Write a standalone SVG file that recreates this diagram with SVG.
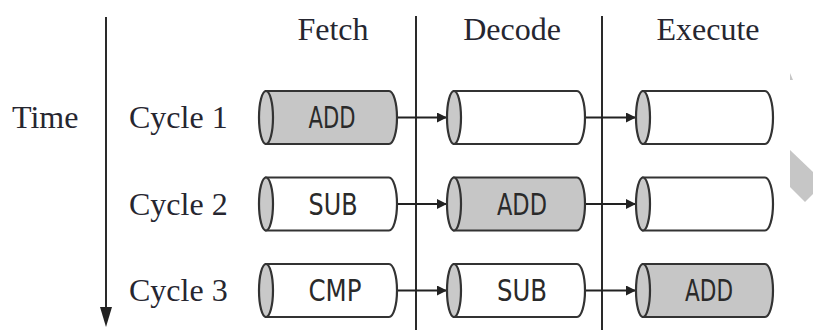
<svg xmlns="http://www.w3.org/2000/svg" width="813" height="330" viewBox="0 0 813 330">
<defs>
<style>
.lbl{font-family:"Liberation Serif","Times New Roman",serif;font-size:32px;fill:#262630}
.ins{font-family:"DejaVu Sans Condensed","Liberation Sans",sans-serif;font-size:31px;fill:#2a2a2a;text-anchor:middle}
.body{stroke:#333;stroke-width:2.2;fill:#fff}
.body.on{fill:#c6c6c6}
.cap{stroke:#333;stroke-width:2.2;fill:#c9c9c9}
.rule{stroke:#2a2a2a;stroke-width:2;fill:none}
.conn{stroke:#222;stroke-width:2;fill:none;marker-end:url(#ah)}
</style>
<marker id="ah" viewBox="0 0 10 10" refX="10" refY="5" markerWidth="6.5" markerHeight="5" markerUnits="strokeWidth" orient="auto">
<path d="M0,0 L10,5 L0,10 Z" fill="#222"/>
</marker>
</defs>
<rect width="813" height="330" fill="#fff"/>

<g id="axes">
<line class="rule" x1="106" y1="17" x2="106" y2="312"/>
<path d="M100,307 L112,307 L106,327 Z" fill="#222"/>
<line class="rule" x1="416" y1="16" x2="416" y2="330"/>
<line class="rule" x1="602" y1="16" x2="602" y2="330"/>
</g>

<g id="headers">
<text class="lbl" x="333" y="40" text-anchor="middle">Fetch</text>
<text class="lbl" x="512" y="40" text-anchor="middle">Decode</text>
<text class="lbl" x="708" y="40" text-anchor="middle">Execute</text>
<text class="lbl" x="12" y="128">Time</text>
<text class="lbl" x="129" y="128">Cycle 1</text>
<text class="lbl" x="129" y="215">Cycle 2</text>
<text class="lbl" x="129" y="301">Cycle 3</text>
</g>

<g id="connectors">
<line class="conn" x1="397" y1="117.5" x2="447" y2="117.5"/>
<line class="conn" x1="585" y1="117.5" x2="636" y2="117.5"/>
<line class="conn" x1="397" y1="204" x2="447" y2="204"/>
<line class="conn" x1="585" y1="204" x2="636" y2="204"/>
<line class="conn" x1="397" y1="290.5" x2="447" y2="290.5"/>
<line class="conn" x1="585" y1="290.5" x2="636" y2="290.5"/>
</g>

<g id="f1">
<path class="body on" d="M266,91 H389 A8,26.5 0 0 1 389,144 H266 Z"/>
<ellipse class="cap" cx="266" cy="117.5" rx="7" ry="26.5"/>
<text class="ins" x="332" y="128" textLength="47" lengthAdjust="spacingAndGlyphs">ADD</text>
</g>
<g id="d1">
<path class="body" d="M454,91 H577 A8,26.5 0 0 1 577,144 H454 Z"/>
<ellipse class="cap" cx="454" cy="117.5" rx="7" ry="26.5"/>
</g>
<g id="e1">
<path class="body" d="M643,91 H765 A8,26.5 0 0 1 765,144 H643 Z"/>
<ellipse class="cap" cx="643" cy="117.5" rx="7" ry="26.5"/>
</g>

<g id="f2">
<path class="body" d="M266,177.5 H389 A8,26.5 0 0 1 389,230.5 H266 Z"/>
<ellipse class="cap" cx="266" cy="204" rx="7" ry="26.5"/>
<text class="ins" x="333" y="215" textLength="49" lengthAdjust="spacingAndGlyphs">SUB</text>
</g>
<g id="d2">
<path class="body on" d="M454,177.5 H577 A8,26.5 0 0 1 577,230.5 H454 Z"/>
<ellipse class="cap" cx="454" cy="204" rx="7" ry="26.5"/>
<text class="ins" x="522" y="215" textLength="50" lengthAdjust="spacingAndGlyphs">ADD</text>
</g>
<g id="e2">
<path class="body" d="M643,177.5 H765 A8,26.5 0 0 1 765,230.5 H643 Z"/>
<ellipse class="cap" cx="643" cy="204" rx="7" ry="26.5"/>
</g>

<g id="f3">
<path class="body" d="M266,264 H389 A8,26.5 0 0 1 389,317 H266 Z"/>
<ellipse class="cap" cx="266" cy="290.5" rx="7" ry="26.5"/>
<text class="ins" x="335" y="301" textLength="53" lengthAdjust="spacingAndGlyphs">CMP</text>
</g>
<g id="d3">
<path class="body" d="M454,264 H577 A8,26.5 0 0 1 577,317 H454 Z"/>
<ellipse class="cap" cx="454" cy="290.5" rx="7" ry="26.5"/>
<text class="ins" x="522" y="301" textLength="50" lengthAdjust="spacingAndGlyphs">SUB</text>
</g>
<g id="e3">
<path class="body on" d="M643,264 H765 A8,26.5 0 0 1 765,317 H643 Z"/>
<ellipse class="cap" cx="643" cy="290.5" rx="7" ry="26.5"/>
<text class="ins" x="709" y="301" textLength="48" lengthAdjust="spacingAndGlyphs">ADD</text>
</g>

<g id="deco">
<polygon points="790,150 813,172 813,194 805,202 790,187" fill="#c6c6c6"/>
<polygon points="790,73 793,80 790,80" fill="#c6c6c6"/>
</g>
</svg>
